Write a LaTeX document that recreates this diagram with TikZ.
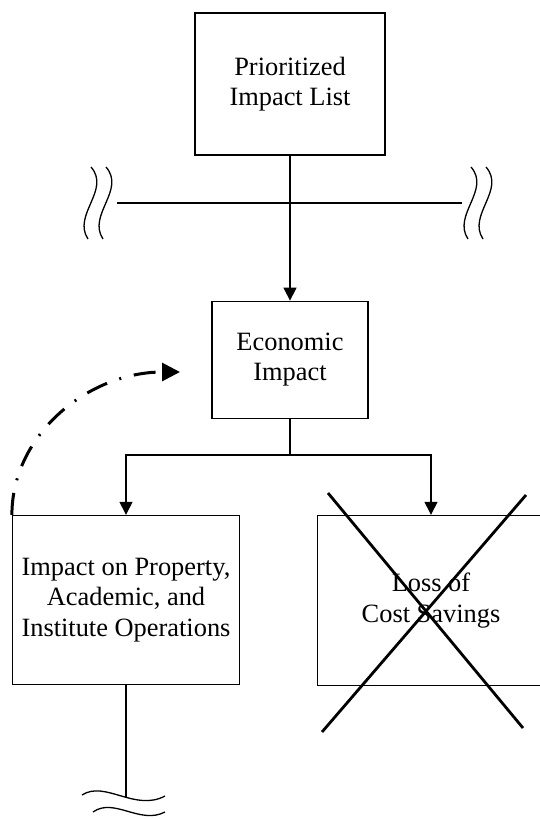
\documentclass[tikz,border=0pt]{standalone}
\usepackage{fontspec}
\setmainfont{Liberation Serif}
\usetikzlibrary{positioning,arrows.meta}
\tikzset{main box/.style={rectangle,draw,line width=1.2pt,inner sep=0pt,align=center,
    font=\fontsize{26.4}{30.5}\selectfont},
  link/.style={line width=1.4pt},
  flow/.style={link,-{Triangle[length=13pt,width=13pt]}},
  break mark/.style={line width=1.3pt},
  cross out/.style={line width=2.8pt},
  feedback/.style={line width=3pt,dash pattern=on 22pt off 13pt on 2pt off 13pt,
    -{Triangle[length=18pt,width=18pt]}},}

\begin{document}
\begin{tikzpicture}[x=1pt,y=-1pt]
    \useasboundingbox (0,0) rectangle (540,819);

    \node[main box,minimum width=190pt,minimum height=142pt] (prio) at (290,84) {Prioritized\\Impact List};
    \node[main box,minimum width=156pt,minimum height=117pt] (econ) [below = 145pt of prio] {Economic\\Impact};
    \node[main box,minimum width=227pt,minimum height=169pt] (impact) [below = 96pt of econ, xshift=-164pt] {Impact on Property,\\Academic, and\\Institute Operations};
    \node[main box,minimum width=227pt,minimum height=170pt] (loss) [below = 96pt of econ, xshift=141pt] {Loss of\\Cost Savings};

    % cut line across the flow
    \coordinate (cutL) at (117,203);
    \coordinate (cutR) at (462,203);
    \draw[link] (cutL) -- (cutR);
    \foreach \bx in {91,106,471,486}
      \draw[break mark] (\bx,167) .. controls (\bx+20,190) and (\bx-19,215) .. (\bx-3,239);

    \draw[flow] (prio) -- (econ);
    \draw[link] (econ.south) -- ++(0,36) coordinate (fork);
    \draw[flow] (fork) -| (impact.north);
    \draw[flow] (fork) -| (loss.north);

    % dropped branch
    \draw[cross out] (328,493) -- (523,728);
    \draw[cross out] (526,495) -- (322,732);

    % feedback to economic impact
    \coordinate (back) at (180,372);
    \draw[feedback] (impact.north west) .. controls +(0,-80) and (88,372) .. (back);

    % continues below
    \draw[link] (impact.south) -- ++(0,113) coordinate (tail);
    \draw[break mark] (82,795) .. controls (105,780) and (135,812) .. (165,796);
    \draw[break mark] (93,812) .. controls (114,797) and (140,825) .. (165,812);
\end{tikzpicture}
\end{document}
